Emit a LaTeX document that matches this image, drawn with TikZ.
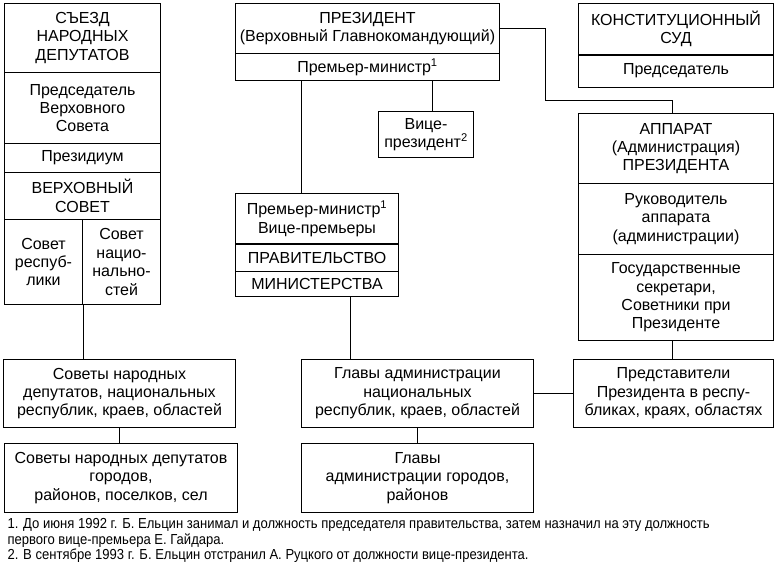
\documentclass[tikz,border=0pt]{standalone}
\usepackage{fontspec}
\setmainfont{Liberation Sans}
\newfontfamily\narrowfont[FakeStretch=0.9]{Liberation Sans}
\usetikzlibrary{positioning}

\tikzset{
  cell/.style 2 args={draw, rectangle, anchor=north west, inner sep=0pt,
    align=center, minimum width=#1, minimum height=#2},
  divider/.style={line width=2pt},
}

\begin{document}
\begin{tikzpicture}[x=1pt,y=-1pt,line width=1pt,font=\fontsize{16}{18.4}\selectfont]
  \useasboundingbox[fill=white] (0,0) rectangle (778,568);
  % left column
  \node[cell={156}{69}] (sezd) at (4,3) {СЪЕЗД\\НАРОДНЫХ\\ДЕПУТАТОВ};
  \node[cell={156}{71}] (pvs) at (4,72) {Председатель\\Верховного\\Совета};
  \node[cell={156}{29}] (prezid) at (4,143) {Президиум};
  \node[cell={156}{47}] (vs) at (4,172) {ВЕРХОВНЫЙ\\СОВЕТ};
  \node[cell={78}{85}] (srep) at (4,219) {Совет\\респуб-\\лики};
  \node[cell={78}{85}] (snat) at (82,219) {Совет\\нацио-\\нально-\\стей};
  % president
  \node[cell={264}{50}] (pres) at (235,3) {ПРЕЗИДЕНТ\\(Верховный Главнокомандующий)};
  \node[cell={264}{27}] (pm) at (235,53) {Премьер-министр\textsuperscript{1}};
  \node[cell={95}{46}] (vice) at (378,111) {Вице-\\президент\textsuperscript{2}};
  % court
  \node[cell={195}{51}] (ks) at (578,3) {КОНСТИТУЦИОННЫЙ\\СУД};
  \node[cell={195}{33}] (kspred) at (578,54) {Председатель};
  \draw[divider] (ks.south west) -- (ks.south east);
  % apparatus
  \node[cell={195}{70}] (app) at (578,113) {АППАРАТ\\(Администрация)\\ПРЕЗИДЕНТА};
  \node[cell={195}{71}] (apprk) at (578,183) {Руководитель\\аппарата\\(администрации)};
  \node[cell={195}{86}] (appgs) at (578,254) {Государственные\\секретари,\\Советники при\\Президенте};
  % government
  \node[cell={163}{50}] (gov) at (235,193) {Премьер-министр\textsuperscript{1}\\Вице-премьеры};
  \node[cell={163}{28}] (govp) at (235,243) {ПРАВИТЕЛЬСТВО};
  \node[cell={163}{25}] (govm) at (235,271) {МИНИСТЕРСТВА};
  \draw[divider] (gov.south west) -- (gov.south east);
  % lower levels
  \node[cell={232}{68}] (sov1) at (3,359) {Советы народных\\депутатов, национальных\\республик, краев, областей};
  \node[cell={233}{69}] (sov2) at (4,443) {Советы народных депутатов\\городов,\\районов, поселков, сел};
  \node[cell={232}{68}] (gl1) at (301,359) {Главы администрации\\национальных\\республик, краев, областей};
  \node[cell={232}{69}] (gl2) at (301,443) {Главы\\администрации городов,\\районов};
  \node[cell={200}{68}] (pred) at (573,359) {Представители\\Президента в респу-\\бликах, краях, областях};
  % connectors
  \coordinate (xa) at (301,0);
  \coordinate (xb) at (432,0);
  \coordinate (xc) at (350,0);
  \coordinate (xd) at (672,0);
  \coordinate (bend) at (545,100);
  \draw (srep.south east) -- (srep.south east |- sov1.north);
  \draw (sov1.south) -- (sov1.south |- sov2.north);
  \draw (pm.south -| xa) -- (gov.north -| xa);
  \draw (pm.south -| xb) -- (vice.north -| xb);
  \draw (pres.east) -| (bend) -| (app.north -| xd);
  \draw (appgs.south -| xd) -- (pred.north -| xd);
  \draw (govm.south -| xc) -- (gl1.north -| xc);
  \draw (gl1.south) -- (gl2.north);
  \draw (gl1) -- (pred);
  % notes
  \node[anchor=north west, align=left, inner sep=0pt,
    font=\narrowfont\fontsize{14.5}{15.5}\selectfont] (notes) at (7,518)
    {1. До июня 1992 г. Б. Ельцин занимал и должность председателя правительства, затем назначил на эту должность\\
     первого вице-премьера Е. Гайдара.\\
     2. В сентябре 1993 г. Б. Ельцин отстранил А. Руцкого от должности вице-президента.};
\end{tikzpicture}
\end{document}
